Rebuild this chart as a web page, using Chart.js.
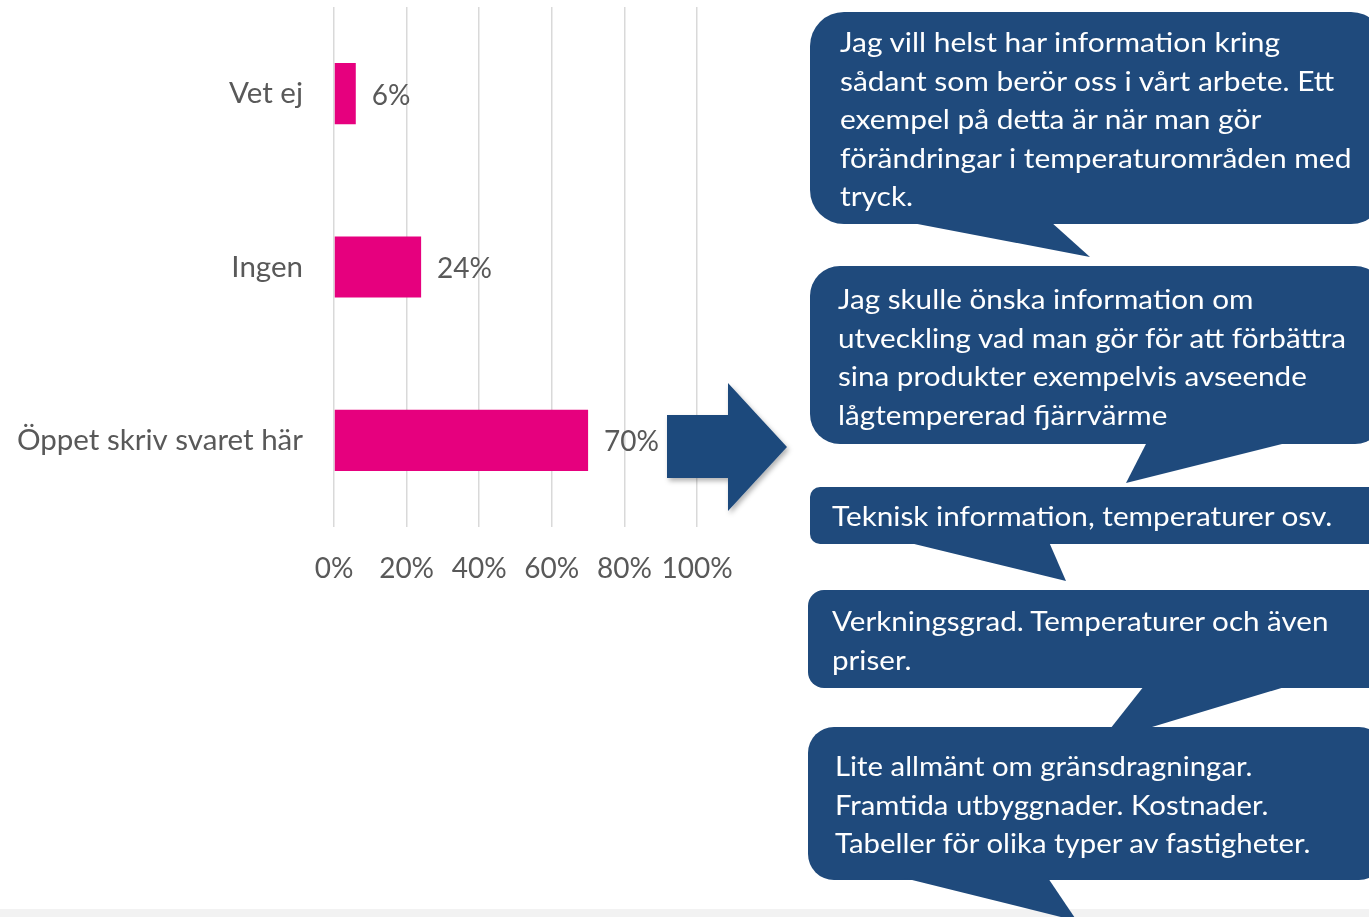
<!DOCTYPE html>
<html>
<head>
<meta charset="utf-8">
<script src="https://cdn.jsdelivr.net/npm/chart.js@4.4.1/dist/chart.umd.min.js"></script>
<style>
  html, body { margin: 0; padding: 0; background: #fff; }
  body { width: 1369px; height: 917px; position: relative; overflow: hidden; font-family: Lato, "Open Sans", sans-serif; }
  #chartBox { position: absolute; left: 0; top: 0; width: 760px; height: 600px; }
  #shapes { position: absolute; left: 0; top: 0; }
  .note { position: absolute; color: #fff; font-size: 27px; line-height: 38.5px; white-space: nowrap; transform-origin: 0 0; }
</style>
</head>
<body>
<div id="chartBox"><canvas id="chart" width="760" height="600"></canvas></div>
<svg id="shapes" width="1369" height="917"></svg>
<div id="notes"></div>
<script>
const categories = ["Vet ej", "Ingen", "Öppet skriv svaret här"];
const values = [6, 24, 70];
const xTicks = [0, 20, 40, 60, 80, 100];

const comments = [
  ["Jag vill helst har information kring", "sådant som berör oss i vårt arbete. Ett", "exempel på detta är när man gör", "förändringar i temperaturområden med", "tryck."],
  ["Jag skulle önska information om", "utveckling vad man gör för att förbättra", "sina produkter exempelvis avseende", "lågtempererad fjärrvärme"],
  ["Teknisk information, temperaturer osv."],
  ["Verkningsgrad. Temperaturer och även", "priser."],
  ["Lite allmänt om gränsdragningar.", "Framtida utbyggnader. Kostnader.", "Tabeller för olika typer av fastigheter."]
];

const BLUE = "#1f4a7c";
const TEXT = "#595959";

// speech bubbles: box + tail polygon, text position and the width of the widest line
const bubbles = [
  { x: 810, y: 12, w: 575, h: 212, r: 34, tail: [[907, 222], [1051, 222], [1090, 257]], tx: 840, ty: 23, tw: 512 },
  { x: 810, y: 266, w: 575, h: 178, r: 30, tail: [[1147, 442], [1290, 442], [1126, 483]], tx: 838, ty: 280, tw: 510 },
  { x: 810, y: 487, w: 575, h: 57, r: 10, tail: [[906, 542], [1049, 542], [1066, 581]], tx: 832, ty: 497, tw: 501 },
  { x: 808, y: 590, w: 577, h: 98, r: 16, tail: [[1144, 686], [1288, 686], [1099, 743]], tx: 832, ty: 602, tw: 498 },
  { x: 808, y: 727, w: 577, h: 153, r: 26, tail: [[904, 878], [1048, 878], [1077, 921]], tx: 835, ty: 747, tw: 478 }
];

const svg = document.getElementById("shapes");
let svgHtml = `<defs><filter id="sh" x="-20%" y="-20%" width="150%" height="150%">
  <feDropShadow dx="2" dy="3" stdDeviation="2.5" flood-color="#000" flood-opacity="0.3"/></filter></defs>`;
svgHtml += `<rect x="0" y="909" width="1369" height="8" fill="#f2f2f2"/>`;
svgHtml += `<polygon filter="url(#sh)" fill="${BLUE}" points="667,415 728,415 728,383 787,447 728,511 728,478 667,478"/>`;
bubbles.forEach((b) => {
  svgHtml += `<rect x="${b.x}" y="${b.y}" width="${b.w}" height="${b.h}" rx="${b.r}" fill="${BLUE}"/>`;
  svgHtml += `<polygon fill="${BLUE}" points="${b.tail.map((p) => p.join(",")).join(" ")}"/>`;
});
svg.innerHTML = svgHtml;

const notes = document.getElementById("notes");
const measure = document.createElement("canvas").getContext("2d");
bubbles.forEach((b, i) => {
  const d = document.createElement("div");
  d.className = "note";
  d.style.left = b.tx + "px";
  d.style.top = b.ty + "px";
  d.innerHTML = comments[i].join("<br>");
  notes.appendChild(d);
  measure.font = "27px Lato";
  const widest = Math.max(...comments[i].map((l) => measure.measureText(l).width));
  d.style.transform = `scaleX(${b.tw / widest})`;
});

const barLabels = {
  id: "barLabels",
  afterDatasetsDraw(chart) {
    const ctx = chart.ctx;
    const meta = chart.getDatasetMeta(0);
    ctx.save();
    ctx.font = "28px Lato";
    ctx.fillStyle = TEXT;
    ctx.textAlign = "left";
    ctx.textBaseline = "middle";
    meta.data.forEach((bar, i) => {
      ctx.fillText(values[i] + "%", bar.x + 16, bar.y + 2);
    });
    ctx.restore();
  },
};

new Chart(document.getElementById("chart").getContext("2d"), {
  type: "bar",
  data: {
    labels: categories,
    datasets: [
      {
        data: values,
        backgroundColor: "#e6007e",
        categoryPercentage: 1,
        barPercentage: 0.353,
      },
    ],
  },
  options: {
    indexAxis: "y",
    responsive: false,
    animation: false,
    layout: { padding: { top: 7, right: 63, left: 0, bottom: 0 } },
    plugins: { legend: { display: false }, tooltip: { enabled: false } },
    scales: {
      x: {
        min: 0,
        max: 100,
        afterFit: (s) => { s.height = 73; },
        afterBuildTicks: (s) => { s.ticks = xTicks.map((v) => ({ value: v })); },
        grid: { color: "#d9d9d9", lineWidth: 1.5, drawTicks: false },
        border: { display: false },
        ticks: {
          padding: 25, color: TEXT, font: { family: "Lato", size: 28 },
          maxRotation: 0, minRotation: 0, autoSkip: false,
          callback: (v) => v + "%",
        },
      },
      y: {
        afterFit: (s) => { s.width = 334; s.paddingTop = 0; s.paddingBottom = 0; },
        grid: { display: false, drawTicks: false },
        border: { display: false },
        ticks: { padding: 31, color: TEXT, font: { family: "Lato", size: 29.5 } },
      },
    },
  },
  plugins: [barLabels],
});
</script>
</body>
</html>
